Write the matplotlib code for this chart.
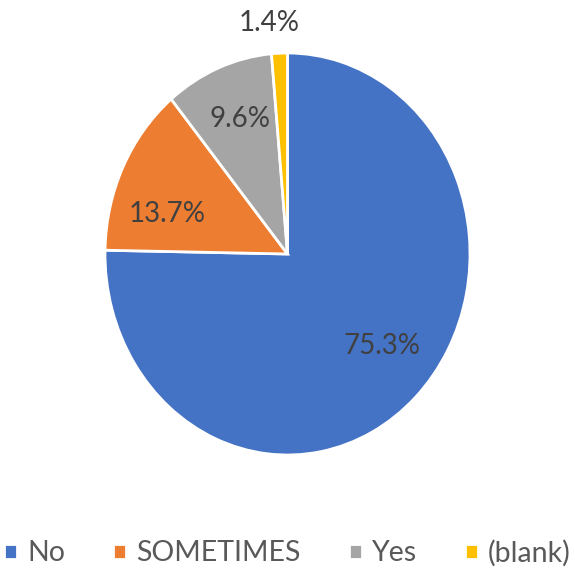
import matplotlib.pyplot as plt
import numpy as np

labels = ['No', 'SOMETIMES', 'Yes', '(blank)']
values = [75.3, 13.7, 9.6, 1.4]
colors = ['#4472C4', '#ED7D31', '#A5A5A5', '#FFC000']

plt.rcParams['font.family'] = ['Lato', 'DejaVu Sans']

fig = plt.figure(figsize=(5.75, 5.78), dpi=100)
ax = fig.add_axes([105/575, 1 - 455/578, 365/575, 402/578])

wedges, texts, autotexts = ax.pie(values, colors=colors, startangle=90, counterclock=False,
                                  autopct='%.1f%%', pctdistance=0.7,
                                  wedgeprops=dict(edgecolor='white', linewidth=2),
                                  textprops=dict(color='#404040', fontsize=20))
ax.set_aspect('auto')
ax.set_xlim(-1, 1)
ax.set_ylim(-1, 1)

# excel-ish label spots
label_pos = [(0.52, -0.46), (-0.66, 0.2), (-0.26, 0.67), (-0.1, 1.15)]
for t, p in zip(autotexts, label_pos):
    t.set_position(p)

fig.legend(wedges, labels, loc='center', bbox_to_anchor=(0.5, 1 - 553/578), ncol=4,
           frameon=False, fontsize=20.5, handlelength=0.45, handleheight=0.45,
           handletextpad=0.35, columnspacing=1.7, labelcolor='#595959')

fig.savefig('out.png', dpi=100)
